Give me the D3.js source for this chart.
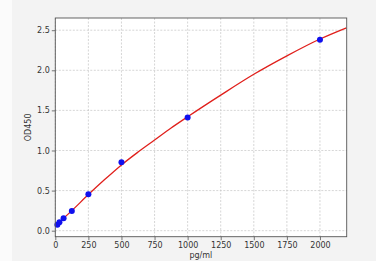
<!DOCTYPE html>
<html><head><meta charset="utf-8">
<script src="https://cdn.jsdelivr.net/npm/d3@7"></script>
<style>html,body{margin:0;padding:0;background:#f3f3f3;}svg{display:block;}</style>
</head><body>
<script>
const pointX = [15.6, 31.25, 62.5, 125, 250, 500, 1000, 2000];
const pointY = [0.075, 0.105, 0.155, 0.245, 0.455, 0.853, 1.41, 2.38];
const curveX = [0, 125, 250, 375, 500, 625, 750, 875, 1000, 1250, 1500, 1750, 2000, 2200];
const curveY = [0.06, 0.25, 0.45, 0.64, 0.82, 0.98, 1.13, 1.28, 1.42, 1.69, 1.95, 2.18, 2.39, 2.53];
const xTicks = [0, 250, 500, 750, 1000, 1250, 1500, 1750, 2000];
const yTicks = [0.0, 0.5, 1.0, 1.5, 2.0, 2.5];

const W = 376, H = 261;
const m = {left: 55.3, right: 346.7, top: 18, bottom: 236.7};
const svg = d3.select("body").append("svg").attr("width", W).attr("height", H);
svg.append("rect").attr("x", 0).attr("y", 0).attr("width", 12).attr("height", H).attr("fill", "#fbfbfb");
const x = d3.scaleLinear().domain([0, 2202]).range([m.left, m.right]);
const y = d3.scaleLinear().domain([-0.075, 2.652]).range([m.bottom, m.top]);

svg.append("rect").attr("x", m.left).attr("y", m.top).attr("width", m.right - m.left)
  .attr("height", m.bottom - m.top).attr("fill", "#fff");

// grid
const g = svg.append("g");
g.selectAll(".vg").data(xTicks).join("line")
  .attr("x1", d => x(d)).attr("x2", d => x(d)).attr("y1", m.top).attr("y2", m.bottom)
  .attr("stroke", "#c4c4c4").attr("stroke-width", 0.7).attr("stroke-dasharray", "2,1.5");
g.selectAll(".hg").data(yTicks).join("line")
  .attr("y1", d => y(d)).attr("y2", d => y(d)).attr("x1", m.left).attr("x2", m.right)
  .attr("stroke", "#c4c4c4").attr("stroke-width", 0.7).attr("stroke-dasharray", "2,1.5");

// curve
const line = d3.line().x((d, i) => x(curveX[i])).y(d => y(d)).curve(d3.curveMonotoneX);
svg.append("defs").append("clipPath").attr("id", "clip").append("rect")
  .attr("x", m.left).attr("y", m.top).attr("width", m.right - m.left).attr("height", m.bottom - m.top);
svg.append("path").attr("d", line(curveY)).attr("fill", "none").attr("stroke", "#e0201c")
  .attr("stroke-width", 1.3).attr("clip-path", "url(#clip)");

// points
svg.selectAll(".pt").data(pointY).join("circle")
  .attr("cx", (d, i) => x(pointX[i])).attr("cy", d => y(d)).attr("r", 3)
  .attr("fill", "#1010ee");

// frame
svg.append("rect").attr("x", m.left).attr("y", m.top).attr("width", m.right - m.left)
  .attr("height", m.bottom - m.top).attr("fill", "none").attr("stroke", "#555").attr("stroke-width", 0.9);

// axes
const fontFam = "DejaVu Sans, sans-serif";
const xa = svg.append("g").attr("transform", `translate(0,${m.bottom})`)
  .call(d3.axisBottom(x).tickValues(xTicks).tickSize(3.5).tickPadding(2).tickFormat(d3.format("d")));
const ya = svg.append("g").attr("transform", `translate(${m.left},0)`)
  .call(d3.axisLeft(y).tickValues(yTicks).tickSize(3.5).tickPadding(2).tickFormat(d3.format(".1f")));
[xa, ya].forEach(a => {
  a.select(".domain").remove();
  a.selectAll("line").attr("stroke", "#555").attr("stroke-width", 0.8);
  a.selectAll("text").attr("font-family", fontFam).attr("font-size", 8).attr("fill", "#333");
});

svg.append("text").attr("x", x(1100)).attr("y", 258).attr("text-anchor", "middle")
  .attr("font-family", fontFam).attr("font-size", 8).attr("fill", "#333").text("pg/ml");
svg.append("text").attr("transform", `translate(31,${(m.top + m.bottom) / 2}) rotate(-90)`)
  .attr("text-anchor", "middle").attr("font-family", fontFam).attr("font-size", 8)
  .attr("fill", "#333").text("OD450");
</script>
</body></html>
